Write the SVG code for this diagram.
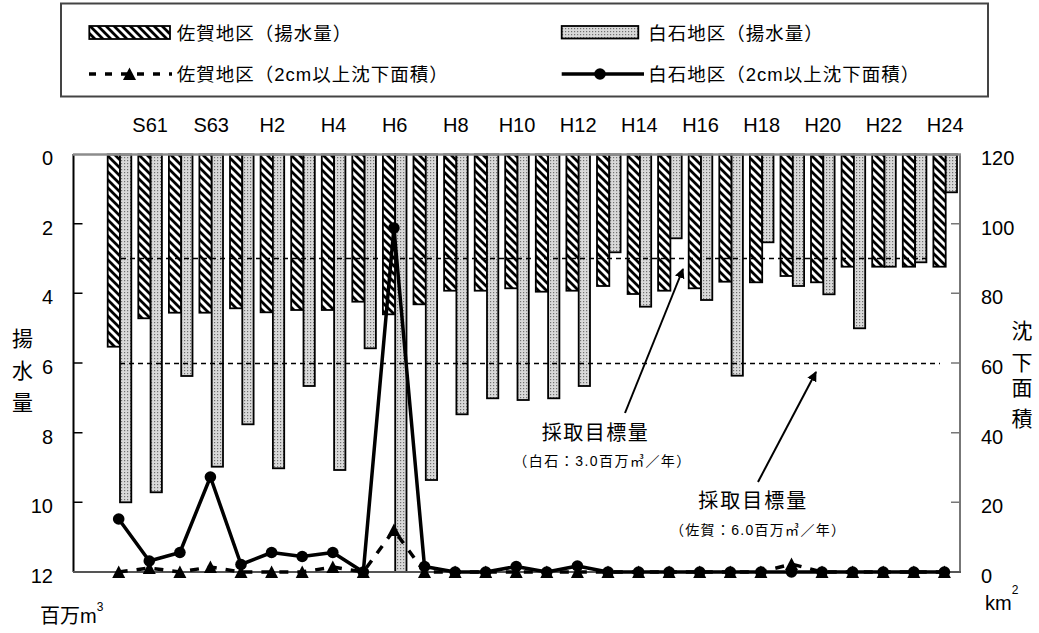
<svg xmlns="http://www.w3.org/2000/svg" width="1039" height="633" viewBox="0 0 1039 633">
<style>
text{font-family:"Liberation Sans","Noto Sans CJK JP",sans-serif;fill:#000}
.yr{font-size:20px;text-anchor:middle}
.ln{font-size:20px;text-anchor:end}
.rn{font-size:20px}
.lg{font-size:18.5px;letter-spacing:1px}
.hb{fill:url(#hatch);stroke:#000;stroke-width:1.8}
.db{fill:url(#dots);stroke:#000;stroke-width:1.8}
.tgt{stroke:#000;stroke-width:1.6;stroke-dasharray:5 4;fill:none}
.saga{stroke:#000;stroke-width:3.5;stroke-dasharray:9 9;fill:none}
.shir{stroke:#000;stroke-width:3.5;fill:none;stroke-linejoin:round}
.arw{stroke:#000;stroke-width:2;fill:none}
</style>
<defs>
<pattern id="hatch" patternUnits="userSpaceOnUse" width="8" height="8">
<rect width="8" height="8" fill="#fff"/>
<path d="M-2,-2 L10,10 M-2,6 L2,10 M6,-2 L10,2" stroke="#000" stroke-width="2.8"/>
</pattern>
<pattern id="dots" patternUnits="userSpaceOnUse" width="3" height="3">
<rect width="3" height="3" fill="#d9d9d9"/>
<rect x="1" y="1" width="1.2" height="1.2" fill="#707070"/>
</pattern>
<path id="tri" d="M-6.5,6 L6.5,6 L0,-6.5 Z" fill="#000"/>
<circle id="dot" r="5.8" fill="#000"/>
<marker id="ah" viewBox="0 0 10 10" refX="9" refY="5" markerWidth="5" markerHeight="5" orient="auto-start-reverse" markerUnits="strokeWidth">
<path d="M0,0 L10,5 L0,10 Z" fill="#000"/>
</marker>
</defs>
<rect width="1039" height="633" fill="#fff"/>

<g id="legend">
<rect x="61" y="3.5" width="927" height="93" fill="#fff" stroke="#444" stroke-width="2"/>
<rect x="89.3" y="26" width="80.7" height="13" class="hb"/>
<text x="176.7" y="40" class="lg">佐賀地区（揚水量）</text>
<rect x="561.7" y="26" width="76.6" height="12.5" class="db"/>
<text x="648.3" y="40" class="lg">白石地区（揚水量）</text>
<line x1="89" y1="74" x2="172" y2="74" stroke="#000" stroke-width="3.5" stroke-dasharray="7 9"/>
<use href="#tri" x="129.5" y="74"/>
<text x="176.7" y="81" class="lg">佐賀地区（2cm以上沈下面積）</text>
<line x1="561.7" y1="74" x2="644" y2="74" stroke="#000" stroke-width="3.5"/>
<use href="#dot" x="600" y="74"/>
<text x="648.3" y="81" class="lg">白石地区（2cm以上沈下面積）</text>
</g>

<g id="year-labels">
<text x="150.1" y="131.5" class="yr">S61</text>
<text x="211.2" y="131.5" class="yr">S63</text>
<text x="272.4" y="131.5" class="yr">H2</text>
<text x="333.6" y="131.5" class="yr">H4</text>
<text x="394.7" y="131.5" class="yr">H6</text>
<text x="455.9" y="131.5" class="yr">H8</text>
<text x="517.0" y="131.5" class="yr">H10</text>
<text x="578.2" y="131.5" class="yr">H12</text>
<text x="639.4" y="131.5" class="yr">H14</text>
<text x="700.5" y="131.5" class="yr">H16</text>
<text x="761.7" y="131.5" class="yr">H18</text>
<text x="822.8" y="131.5" class="yr">H20</text>
<text x="884.0" y="131.5" class="yr">H22</text>
<text x="945.2" y="131.5" class="yr">H24</text>
</g>

<g id="bars-saga">
<rect x="107.7" y="154.5" width="12.3" height="192.2" class="hb"/>
<rect x="138.3" y="154.5" width="12.3" height="163.8" class="hb"/>
<rect x="168.9" y="154.5" width="12.3" height="158.2" class="hb"/>
<rect x="199.4" y="154.5" width="12.3" height="158.2" class="hb"/>
<rect x="230.0" y="154.5" width="12.3" height="153.8" class="hb"/>
<rect x="260.6" y="154.5" width="12.3" height="157.8" class="hb"/>
<rect x="291.2" y="154.5" width="12.3" height="155.5" class="hb"/>
<rect x="321.8" y="154.5" width="12.3" height="155.5" class="hb"/>
<rect x="352.3" y="154.5" width="12.3" height="147.2" class="hb"/>
<rect x="382.9" y="154.5" width="12.3" height="159.8" class="hb"/>
<rect x="413.5" y="154.5" width="12.3" height="149.8" class="hb"/>
<rect x="444.1" y="154.5" width="12.3" height="136.2" class="hb"/>
<rect x="474.7" y="154.5" width="12.3" height="136.2" class="hb"/>
<rect x="505.2" y="154.5" width="12.3" height="133.8" class="hb"/>
<rect x="535.8" y="154.5" width="12.3" height="137.2" class="hb"/>
<rect x="566.4" y="154.5" width="12.3" height="136.2" class="hb"/>
<rect x="597.0" y="154.5" width="12.3" height="131.5" class="hb"/>
<rect x="627.6" y="154.5" width="12.3" height="139.5" class="hb"/>
<rect x="658.1" y="154.5" width="12.3" height="136.2" class="hb"/>
<rect x="688.7" y="154.5" width="12.3" height="133.8" class="hb"/>
<rect x="719.3" y="154.5" width="12.3" height="127.2" class="hb"/>
<rect x="749.9" y="154.5" width="12.3" height="127.8" class="hb"/>
<rect x="780.5" y="154.5" width="12.3" height="121.5" class="hb"/>
<rect x="811.0" y="154.5" width="12.3" height="127.8" class="hb"/>
<rect x="841.6" y="154.5" width="12.3" height="112.2" class="hb"/>
<rect x="872.2" y="154.5" width="12.3" height="112.2" class="hb"/>
<rect x="902.8" y="154.5" width="12.3" height="112.2" class="hb"/>
<rect x="933.4" y="154.5" width="12.3" height="112.2" class="hb"/>
</g>

<g id="bars-shiroishi">
<rect x="120.0" y="154.5" width="11.3" height="347.8" class="db"/>
<rect x="150.6" y="154.5" width="11.3" height="337.8" class="db"/>
<rect x="181.2" y="154.5" width="11.3" height="221.5" class="db"/>
<rect x="211.7" y="154.5" width="11.3" height="312.2" class="db"/>
<rect x="242.3" y="154.5" width="11.3" height="269.8" class="db"/>
<rect x="272.9" y="154.5" width="11.3" height="313.8" class="db"/>
<rect x="303.5" y="154.5" width="11.3" height="231.5" class="db"/>
<rect x="334.1" y="154.5" width="11.3" height="315.5" class="db"/>
<rect x="364.6" y="154.5" width="11.3" height="193.8" class="db"/>
<rect x="395.2" y="154.5" width="11.3" height="417.5" class="db"/>
<rect x="425.8" y="154.5" width="11.3" height="325.5" class="db"/>
<rect x="456.4" y="154.5" width="11.3" height="259.8" class="db"/>
<rect x="487.0" y="154.5" width="11.3" height="243.8" class="db"/>
<rect x="517.5" y="154.5" width="11.3" height="245.5" class="db"/>
<rect x="548.1" y="154.5" width="11.3" height="243.8" class="db"/>
<rect x="578.7" y="154.5" width="11.3" height="231.5" class="db"/>
<rect x="609.3" y="154.5" width="11.3" height="97.8" class="db"/>
<rect x="639.9" y="154.5" width="11.3" height="152.2" class="db"/>
<rect x="670.4" y="154.5" width="11.3" height="83.8" class="db"/>
<rect x="701.0" y="154.5" width="11.3" height="145.5" class="db"/>
<rect x="731.6" y="154.5" width="11.3" height="221.2" class="db"/>
<rect x="762.2" y="154.5" width="11.3" height="87.8" class="db"/>
<rect x="792.8" y="154.5" width="11.3" height="131.5" class="db"/>
<rect x="823.3" y="154.5" width="11.3" height="139.8" class="db"/>
<rect x="853.9" y="154.5" width="11.3" height="173.8" class="db"/>
<rect x="884.5" y="154.5" width="11.3" height="112.2" class="db"/>
<rect x="915.1" y="154.5" width="11.3" height="107.8" class="db"/>
<rect x="945.7" y="154.5" width="11.3" height="37.8" class="db"/>
</g>

<g id="axes">
<line x1="73.5" y1="154" x2="73.5" y2="572" stroke="#000" stroke-width="2"/>
<path d="M73.5,223.7 H82.5 M73.5,293.3 H82.5 M73.5,363 H82.5 M73.5,432.7 H82.5 M73.5,502.3 H82.5" stroke="#000" stroke-width="1.5"/>
<line x1="960" y1="154" x2="960" y2="572" stroke="#777" stroke-width="2"/>
<path d="M951,223.7 H960 M951,293.3 H960 M951,363 H960 M951,432.7 H960 M951,502.3 H960" stroke="#777" stroke-width="1.5"/>
<line x1="73" y1="154.5" x2="961" y2="154.5" stroke="#8c8c8c" stroke-width="2.5"/>
<line x1="73" y1="572" x2="961" y2="572" stroke="#555" stroke-width="2"/>
</g>

<g id="left-axis-labels">
<text x="53" y="165" class="ln">0</text>
<text x="53" y="234.5" class="ln">2</text>
<text x="53" y="304" class="ln">4</text>
<text x="53" y="374" class="ln">6</text>
<text x="53" y="443.5" class="ln">8</text>
<text x="53" y="513" class="ln">10</text>
<text x="53" y="583" class="ln">12</text>
</g>
<g id="right-axis-labels">
<text x="981" y="165" class="rn">120</text>
<text x="981" y="234.5" class="rn">100</text>
<text x="981" y="304" class="rn">80</text>
<text x="981" y="374" class="rn">60</text>
<text x="981" y="443.5" class="rn">40</text>
<text x="981" y="513" class="rn">20</text>
<text x="981" y="583" class="rn">0</text>
</g>

<g id="axis-titles">
<text x="22.5" y="346" font-size="21" text-anchor="middle">揚</text>
<text x="22.5" y="378" font-size="21" text-anchor="middle">水</text>
<text x="22.5" y="410" font-size="21" text-anchor="middle">量</text>
<text x="40" y="623" font-size="20">百万m<tspan font-size="12" dy="-12">3</tspan></text>
<text x="1022" y="338" font-size="21" text-anchor="middle">沈</text>
<text x="1022" y="370" font-size="21" text-anchor="middle">下</text>
<text x="1022" y="395" font-size="21" text-anchor="middle">面</text>
<text x="1022" y="426" font-size="21" text-anchor="middle">積</text>
<text x="985" y="610" font-size="20">km<tspan font-size="12" dy="-16">2</tspan></text>
</g>

<g id="targets">
<line x1="121" y1="258.5" x2="928" y2="258.5" class="tgt"/>
<line x1="120" y1="363.5" x2="940" y2="363.5" class="tgt"/>
</g>

<g id="connectors">
<polyline class="saga" points="118.7,572 149.3,568 179.9,572 210.4,567 241.0,572 271.6,572 302.2,572 332.8,567 363.3,572 393.9,530 424.5,572 455.1,572 485.7,572 516.2,572 546.8,572 577.4,572 608.0,572 638.6,572 669.1,572 699.7,572 730.3,572 760.9,572 791.5,564 822.0,572 852.6,572 883.2,572 913.8,572 944.4,572"/>
<polyline class="shir" points="118.7,519 149.3,561 179.9,552.5 210.4,477 241.0,564.5 271.6,552.5 302.2,556.5 332.8,552.5 363.3,572 393.9,228 424.5,566.5 455.1,572 485.7,572 516.2,566.5 546.8,572 577.4,566 608.0,572 638.6,572 669.1,572 699.7,572 730.3,572 760.9,572 791.5,572 822.0,572 852.6,572 883.2,572 913.8,572 944.4,572"/>
<line x1="625" y1="413" x2="683" y2="269" class="arw" marker-end="url(#ah)"/>
<line x1="758" y1="482" x2="816" y2="372" class="arw" marker-end="url(#ah)"/>
</g>

<g id="markers-saga">
<use href="#tri" x="118.7" y="572"/><use href="#tri" x="149.3" y="568"/><use href="#tri" x="179.9" y="572"/><use href="#tri" x="210.4" y="567"/><use href="#tri" x="241.0" y="572"/><use href="#tri" x="271.6" y="572"/><use href="#tri" x="302.2" y="572"/><use href="#tri" x="332.8" y="567"/><use href="#tri" x="363.3" y="572"/><use href="#tri" x="393.9" y="530"/><use href="#tri" x="424.5" y="572"/><use href="#tri" x="455.1" y="572"/><use href="#tri" x="485.7" y="572"/><use href="#tri" x="516.2" y="572"/><use href="#tri" x="546.8" y="572"/><use href="#tri" x="577.4" y="572"/><use href="#tri" x="608.0" y="572"/><use href="#tri" x="638.6" y="572"/><use href="#tri" x="669.1" y="572"/><use href="#tri" x="699.7" y="572"/><use href="#tri" x="730.3" y="572"/><use href="#tri" x="760.9" y="572"/><use href="#tri" x="791.5" y="564"/><use href="#tri" x="822.0" y="572"/><use href="#tri" x="852.6" y="572"/><use href="#tri" x="883.2" y="572"/><use href="#tri" x="913.8" y="572"/><use href="#tri" x="944.4" y="572"/>
</g>
<g id="markers-shiroishi">
<use href="#dot" x="118.7" y="519"/><use href="#dot" x="149.3" y="561"/><use href="#dot" x="179.9" y="552.5"/><use href="#dot" x="210.4" y="477"/><use href="#dot" x="241.0" y="564.5"/><use href="#dot" x="271.6" y="552.5"/><use href="#dot" x="302.2" y="556.5"/><use href="#dot" x="332.8" y="552.5"/><use href="#dot" x="363.3" y="572"/><use href="#dot" x="393.9" y="228"/><use href="#dot" x="424.5" y="566.5"/><use href="#dot" x="455.1" y="572"/><use href="#dot" x="485.7" y="572"/><use href="#dot" x="516.2" y="566.5"/><use href="#dot" x="546.8" y="572"/><use href="#dot" x="577.4" y="566"/><use href="#dot" x="608.0" y="572"/><use href="#dot" x="638.6" y="572"/><use href="#dot" x="669.1" y="572"/><use href="#dot" x="699.7" y="572"/><use href="#dot" x="730.3" y="572"/><use href="#dot" x="760.9" y="572"/><use href="#dot" x="791.5" y="572"/><use href="#dot" x="822.0" y="572"/><use href="#dot" x="852.6" y="572"/><use href="#dot" x="883.2" y="572"/><use href="#dot" x="913.8" y="572"/><use href="#dot" x="944.4" y="572"/>
</g>

<g id="annotation-shiroishi">
<text x="541.7" y="440" font-size="20" textLength="106" lengthAdjust="spacing">採取目標量</text>
<text x="513.3" y="466" font-size="14" textLength="177" lengthAdjust="spacing">（白石：3.0百万㎥／年）</text>
</g>
<g id="annotation-saga">
<text x="698.3" y="508" font-size="20" textLength="108" lengthAdjust="spacing">採取目標量</text>
<text x="670" y="535" font-size="14" textLength="175" lengthAdjust="spacing">（佐賀：6.0百万㎥／年）</text>
</g>
</svg>
